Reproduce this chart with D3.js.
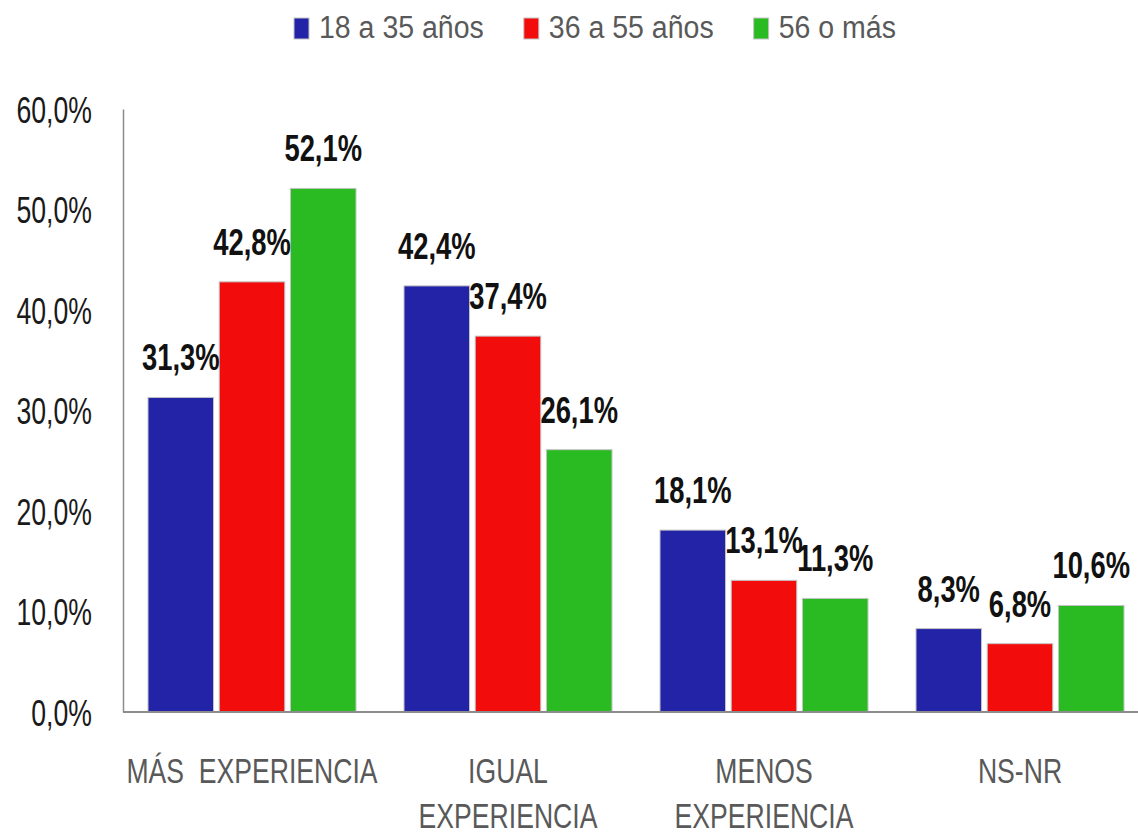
<!DOCTYPE html>
<html>
<head>
<meta charset="utf-8">
<script src="https://cdn.jsdelivr.net/npm/d3@7"></script>
<style>
  html, body { margin: 0; padding: 0; background: #fff; }
  svg { display: block; font-family: "Liberation Sans", Arial, sans-serif; }
  text { white-space: pre; }
</style>
</head>
<body>
<svg id="chart"></svg>
<script>
// chart data
const categories = [["MÁS  EXPERIENCIA"], ["IGUAL", "EXPERIENCIA"], ["MENOS", "EXPERIENCIA"], ["NS-NR"]];
const seriesNames = ["18 a 35 años", "36 a 55 años", "56 o más"];
const seriesColors = ["#2323a8", "#f20c0c", "#2aba22"];
const young = [31.3, 42.4, 18.1, 8.3];
const middle = [42.8, 37.4, 13.1, 6.8];
const older = [52.1, 26.1, 11.3, 10.6];
const yTicks = [0, 10, 20, 30, 40, 50, 60];

const width = 1138;
const height = 837;
const margin = { top: 109, left: 124, bottom: 712 };

const seriesValues = [young, middle, older];
const catKeys = categories.map(c => c.join(" "));

const svg = d3.select('#chart')
    .attr('width', width)
    .attr('height', height);

const fmt = v => v.toFixed(1).replace('.', ',') + '%';

const x = d3.scaleBand()
    .domain(catKeys)
    .range([124, 1148])
    .paddingInner(0.1875)
    .paddingOuter(0.09375);

const xSub = d3.scaleBand()
    .domain(seriesNames)
    .range([0, x.bandwidth()])
    .paddingInner(0.08);

const y = d3.scaleLinear()
    .domain([0, 60])
    .range([margin.bottom, margin.top]);

// text squeezed sideways to look like the narrow office font
function squeezedText(parent, tx, ty, sx, txt) {
    return parent.append('g')
        .attr('transform', `translate(${tx}, ${ty}) scale(${sx}, 1)`)
        .append('text')
        .attr('xml:space', 'preserve')
        .text(txt);
}

//y axis
const yAxis = d3.axisLeft(y)
    .tickValues(yTicks)
    .tickSize(0)
    .tickFormat(fmt);
const yAxisG = svg.append('g')
    .attr('transform', `translate(${margin.left - 1}, 0)`)
    .call(yAxis);
yAxisG.select('.domain')
    .attr('stroke', '#8c8c8c')
    .attr('stroke-width', 1.5);
yAxisG.selectAll('.tick text')
    .attr('x', 0)
    .attr('dy', null)
    .attr('y', 13)
    .attr('text-anchor', 'end')
    .attr('fill', '#1a1a1a')
    .attr('font-size', 37)
    .attr('transform', 'translate(-31, 0) scale(0.72, 1)');

// bars
const groups = svg.selectAll('g.group')
    .data(catKeys)
    .enter()
    .append('g')
    .attr('class', 'group')
    .attr('transform', d => `translate(${x(d)}, 0)`);

groups.selectAll('rect')
    .data((d, i) => seriesNames.map((s, j) => ({ name: s, value: seriesValues[j][i], color: seriesColors[j] })))
    .enter()
    .append('rect')
    .attr('x', d => xSub(d.name))
    .attr('y', d => y(d.value))
    .attr('width', xSub.bandwidth())
    .attr('height', d => y(0) - y(d.value))
    .attr('fill', d => d.color)
    .attr('stroke', '#c4c4c4')
    .attr('stroke-width', 1);

// bottom axis line
svg.append('line')
    .attr('x1', margin.left - 1)
    .attr('x2', width)
    .attr('y1', y(0))
    .attr('y2', y(0))
    .attr('stroke', '#8c8c8c')
    .attr('stroke-width', 2);

// value labels
groups.each(function (cat, i) {
    const g = d3.select(this);
    seriesNames.forEach((s, j) => {
        const v = seriesValues[j][i];
        squeezedText(g, xSub(s) + xSub.bandwidth() / 2, y(v) - 27, 0.74, fmt(v))
            .attr('text-anchor', 'middle')
            .attr('font-size', 37)
            .attr('font-weight', 'bold')
            .attr('fill', '#111');
    });
});

// category labels
categories.forEach((lines, i) => {
    lines.forEach((line, k) => {
        squeezedText(svg, x(catKeys[i]) + x.bandwidth() / 2, 783 + k * 45, 0.76, line)
            .attr('text-anchor', 'middle')
            .attr('font-size', 35)
            .attr('fill', '#595959');
    });
});

// legend
let lx = 294;
seriesNames.forEach((s, j) => {
    svg.append('rect')
        .attr('x', lx)
        .attr('y', 18)
        .attr('width', 15)
        .attr('height', 21)
        .attr('fill', seriesColors[j])
        .attr('stroke', '#c4c4c4')
        .attr('stroke-width', 1);
    const t = squeezedText(svg, lx + 25, 38, 0.92, s)
        .attr('font-size', 31)
        .attr('fill', '#595959');
    const w = t.node().getComputedTextLength() * 0.92;
    lx += 25 + w + 40;
});
</script>
</body>
</html>
